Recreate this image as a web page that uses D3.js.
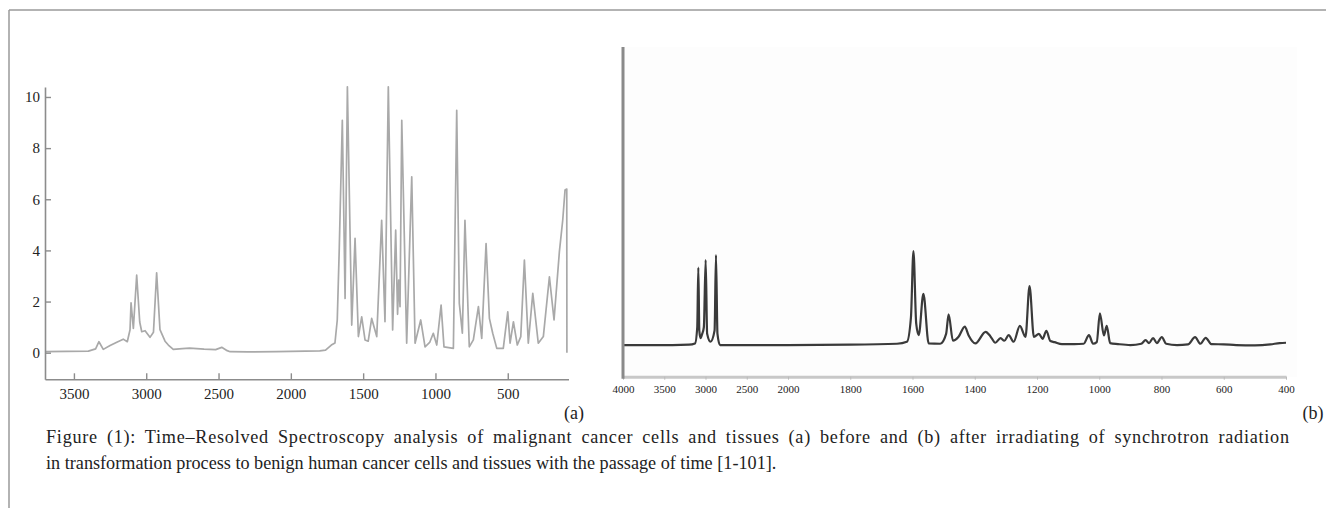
<!DOCTYPE html>
<html>
<head>
<meta charset="utf-8">
<script src="https://cdn.jsdelivr.net/npm/d3@7"></script>
<style>
  body { margin: 0; background: #fff; }
  svg { display: block; }
  text { font-family: "Liberation Serif", "Times New Roman", serif; }
  .axA .domain { stroke: #8c8c8c; stroke-width: 1.6; }
  .axA .tick line { stroke: #8c8c8c; stroke-width: 1.4; }
  .axA .tick text { fill: #222; font-size: 15px; }
  .axB .domain { stroke: #c8c8c8; stroke-width: 3; }
  .axB .tick line { stroke: #bbb; stroke-width: 1; }
  .axB .tick text { fill: #222; font-size: 11px; }
</style>
</head>
<body>
<svg id="svgID" width="1326" height="508"></svg>
<script>
// (a) before irradiation: wavenumber (cm-1) / intensity
var waveA = [3700, 3550, 3400, 3350, 3327, 3297, 3250, 3200, 3159, 3131, 3112, 3105, 3089, 3066, 3045, 3031, 3008, 2974, 2950, 2928, 2905, 2870, 2847, 2813,
  2750, 2700, 2600, 2520, 2478, 2440, 2420, 2300, 2100, 1900, 1800, 1760, 1720, 1695, 1679, 1665, 1644, 1625, 1609, 1579, 1556, 1533, 1510, 1487,
  1465, 1441, 1406, 1372, 1349, 1326, 1296, 1275, 1262, 1254, 1245, 1233, 1199, 1164, 1141, 1102, 1072, 1040, 1015, 991, 961, 941, 876, 853, 835,
  814, 796, 766, 738, 703, 680, 650, 627, 604, 576, 531, 500, 484, 461, 434, 410, 385, 358, 327, 289, 254, 212, 180, 143, 120, 104, 92, 91];
var valA = [0.04, 0.05, 0.06, 0.15, 0.43, 0.13, 0.28, 0.42, 0.53, 0.43, 0.9, 1.95, 0.95, 3.03, 1.2, 0.82, 0.86, 0.6, 0.8, 3.12, 0.9, 0.45, 0.3, 0.13,
  0.16, 0.18, 0.14, 0.12, 0.21, 0.08, 0.04, 0.03, 0.04, 0.06, 0.07, 0.1, 0.3, 0.38, 1.28, 4.1, 9.09, 2.12, 10.4, 1.08, 4.47, 0.63, 1.4, 0.5,
  0.45, 1.34, 0.63, 5.18, 1.21, 10.4, 0.89, 4.79, 1.5, 2.84, 1.8, 9.09, 0.37, 6.88, 0.37, 1.28, 0.23, 0.4, 0.76, 0.3, 1.86, 0.23, 0.17, 9.48, 1.93,
  0.76, 5.18, 0.23, 0.5, 1.8, 0.56, 4.27, 1.34, 0.76, 0.17, 0.17, 1.6, 0.37, 1.21, 0.3, 0.63, 3.62, 0.37, 2.32, 0.37, 0.63, 2.97, 1.28, 3.95, 5.18, 6.36, 6.4, 0];

// (b) after irradiation
var waveB = [4000, 3400, 3200, 3127, 3100, 3087, 3075, 3060, 3040, 3020, 2998, 2980, 2940, 2890, 2873, 2855, 2824, 2500, 2000, 1800, 1650, 1618,
  1605, 1597, 1588, 1580, 1565, 1548, 1511, 1492, 1484, 1470, 1452, 1432, 1420, 1398, 1365, 1350, 1334, 1317, 1305, 1291, 1275, 1255, 1237, 1224,
  1210, 1194, 1182, 1170, 1157, 1144, 1120, 1080, 1050, 1033, 1020, 1008, 998, 985, 976, 965, 940, 900, 865, 851, 840, 827, 815, 799, 785, 750,
  715, 692, 675, 658, 640, 600, 560, 500, 450, 420, 400];
var valB = [0.96, 0.96, 0.97, 1.01, 1.5, 3.31, 1.4, 1.17, 1.3, 1.5, 3.54, 1.3, 1.06, 1.4, 3.69, 1.3, 0.96, 0.96, 0.96, 0.97, 1.0, 1.06,
  1.8, 3.81, 1.6, 1.26, 2.51, 1.01, 1.0, 1.3, 1.89, 1.09, 1.21, 1.52, 1.26, 1.01, 1.36, 1.23, 1.03, 1.17, 1.09, 1.26, 1.06, 1.54, 1.21, 2.75,
  1.21, 1.3, 1.15, 1.39, 1.08, 1.05, 0.99, 0.99, 1.0, 1.26, 1.0, 1.05, 1.92, 1.25, 1.54, 1.02, 0.99, 0.96, 1.0, 1.11, 1.02, 1.17, 1.02, 1.2, 1.0, 0.96,
  0.98, 1.2, 1.0, 1.18, 0.99, 0.98, 0.96, 0.95, 0.98, 1.02, 1.03];

var ticksA_x = [3500, 3000, 2500, 2000, 1500, 1000, 500];
var ticksA_y = [0, 2, 4, 6, 8, 10];
var ticksB_x = [4000, 3500, 3000, 2500, 2000, 1800, 1600, 1400, 1200, 1000, 800, 600, 400];

var captionLines = [
  "Figure (1): Time\u2013Resolved Spectroscopy analysis of malignant cancer cells and tissues (a) before and (b) after irradiating of synchrotron radiation",
  "in transformation process to benign human cancer cells and tissues with the passage of time [1-101]."
];

var serif = "'Liberation Serif', 'Times New Roman', serif";
var svg = d3.select("#svgID");

// frame (top + left rule)
svg.append("line").attr("x1", 9).attr("y1", 10).attr("x2", 1326).attr("y2", 10)
  .attr("stroke", "#9a9a9a").attr("stroke-width", 1.5);
svg.append("line").attr("x1", 9).attr("y1", 10).attr("x2", 9).attr("y2", 508)
  .attr("stroke", "#9a9a9a").attr("stroke-width", 1.5);

// ---------- panel (a) ----------
var xA = d3.scaleLinear().domain([3700, 80]).range([45, 568.5]);
var yA = d3.scaleLinear().domain([-1.04, 10.39]).range([379.3, 87]);

var dataA = waveA.map(function(w, i) { return {w: w, v: valA[i]}; });

svg.append("path")
  .datum(dataA)
  .attr("fill", "none")
  .attr("stroke", "#a9a9a9")
  .attr("stroke-width", 1.7)
  .attr("stroke-linejoin", "round")
  .attr("d", d3.line().x(function(d) { return xA(d.w); }).y(function(d) { return yA(d.v); }));

svg.append("g")
  .attr("class", "axA")
  .attr("transform", "translate(0," + yA(-1.04) + ")")
  .call(d3.axisBottom(xA).tickValues(ticksA_x).tickSize(-6).tickSizeOuter(0).tickPadding(6).tickFormat(d3.format("d")))
  .attr("font-family", serif)
  .selectAll(".tick text").attr("dy", "0.9em");

svg.append("g")
  .attr("class", "axA")
  .attr("transform", "translate(" + xA(3700) + ",0)")
  .call(d3.axisLeft(yA).tickValues(ticksA_y).tickSize(-6).tickSizeOuter(0).tickPadding(5))
  .attr("font-family", serif);

svg.append("text").attr("x", 574).attr("y", 419).attr("text-anchor", "middle")
  .attr("font-size", 18).attr("fill", "#222").text("(a)");

// ---------- panel (b) ----------
var xB = d3.scaleLinear().domain([4000, 2000, 400]).range([623, 788, 1286]);
var yB = d3.scaleLinear().domain([0, 10]).range([376.7, 47]);

svg.append("rect").attr("x", 623).attr("y", 47).attr("width", 674).attr("height", 330)
  .attr("fill", "#fdfdfd");

var dataB = waveB.map(function(w, i) { return {w: w, v: valB[i]}; });

svg.append("path")
  .datum(dataB)
  .attr("fill", "none")
  .attr("stroke", "#3a3a3a")
  .attr("stroke-width", 2.2)
  .attr("stroke-linejoin", "round")
  .attr("d", d3.line().curve(d3.curveMonotoneX)
    .x(function(d) { return xB(d.w); }).y(function(d) { return yB(d.v); }));

svg.append("g")
  .attr("class", "axB")
  .attr("transform", "translate(0," + yB(0) + ")")
  .call(d3.axisBottom(xB).tickValues(ticksB_x).tickSize(3).tickSizeOuter(0).tickPadding(6).tickFormat(d3.format("d")))
  .attr("font-family", serif);

svg.append("line")
  .attr("x1", xB(4000)).attr("x2", xB(4000))
  .attr("y1", yB(10)).attr("y2", yB(0) + 2)
  .attr("stroke", "#8a8a8a").attr("stroke-width", 3);

svg.append("text").attr("x", 1313).attr("y", 419).attr("text-anchor", "middle")
  .attr("font-size", 18).attr("fill", "#222").text("(b)");

// ---------- caption (first line stretched to full width) ----------
var capRight = 1289;
svg.selectAll(".caption")
  .data(captionLines)
  .enter()
  .append("text")
    .attr("class", "caption")
    .attr("x", 46)
    .attr("y", function(d, i) { return 443 + i * 26; })
    .attr("font-family", serif)
    .attr("font-size", 18.2)
    .attr("fill", "#222")
    .text(function(d) { return d; })
    .each(function(d, i) {
      if (i > 0) return;
      var natural = this.getComputedTextLength();
      var extra = capRight - 46 - natural;
      if (extra <= 0) return;
      // split the slack between word gaps and letters
      var gaps = d.split(" ").length - 1;
      d3.select(this)
        .style("word-spacing", (extra * 0.4 / gaps) + "px")
        .style("letter-spacing", (extra * 0.6 / (d.length - 1)) + "px");
    });
</script>
</body>
</html>
